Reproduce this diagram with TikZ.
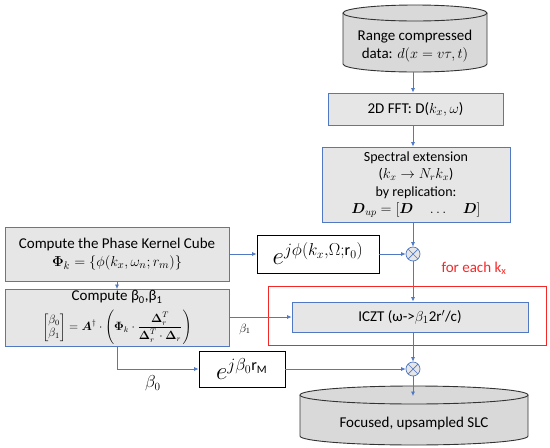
\documentclass[tikz,border=0pt]{standalone}
\usepackage{amsmath, amssymb}
\usepackage{fontspec}
\setmainfont{Carlito}
\usepackage{tikz}
\usetikzlibrary{arrows.meta}

\definecolor{boxblue}{RGB}{80,120,195}
\definecolor{boxgray}{RGB}{230,230,230}
\definecolor{cylgray}{RGB}{217,217,217}
\definecolor{loopred}{RGB}{245,40,40}

\begin{document}
\begin{tikzpicture}[x=1pt, y=-1pt,
    every node/.style={font=\fontsize{15}{18}\selectfont},
    procbox/.style={draw=boxblue, line width=0.9pt, fill=boxgray, align=center, inner sep=1pt},
    expbox/.style={draw=black, line width=0.9pt, fill=white, inner sep=2pt, font=\fontsize{23}{26}\selectfont},
    mixer/.style={circle, draw=boxblue, line width=0.7pt, fill=boxgray, minimum size=14pt, inner sep=0pt,
      path picture={\draw[boxblue, line width=0.7pt] (path picture bounding box.north west) -- (path picture bounding box.south east)
        (path picture bounding box.north east) -- (path picture bounding box.south west);}},
    flow/.style={boxblue, line width=0.7pt, -{Latex[length=4.5pt, width=4pt]}},
    cyl/.style={draw=black!80, line width=0.9pt, fill=cylgray}]
      \useasboundingbox (0,0) rectangle (550,448);

      % 1. input and output data (cylinders)
      \draw[cyl] (343,13) -- (343,64) arc[start angle=180, end angle=360, x radius=72pt, y radius=8pt] -- (487,13);
      \draw[cyl] (415,13) ellipse[x radius=72pt, y radius=8pt];
      \node[align=center] (rawdata) at (415,46) {Range compressed\\data: $d(x=v\tau,t)$};
      \coordinate (rawout) at (413,72);

      \draw[cyl] (300,395) -- (300,436) arc[start angle=180, end angle=360, x radius=114pt, y radius=9pt] -- (528,395);
      \draw[cyl] (414,395) ellipse[x radius=114pt, y radius=9pt];
      \node (slc) at (414,423) {Focused, upsampled SLC};
      \coordinate (slcin) at (413,396);

      % 2. processing blocks
      \node[procbox, minimum width=175pt, minimum height=32pt] (fft) at (415.5,109) {2D FFT: D($k_x,\omega$)};
      \node[procbox, minimum width=188pt, minimum height=75pt, font=\fontsize{14}{17.5}\selectfont] (spec) at (416,184.5)
        {Spectral extension\\($k_x\rightarrow N_r k_x$)\\by replication:\\$\boldsymbol{D}_{up}=[\boldsymbol{D}\quad\dots\quad\boldsymbol{D}]$};
      \node[procbox, minimum width=224pt, minimum height=54pt] (kernel) at (117,254)
        {Compute the Phase Kernel Cube\\$\boldsymbol{\Phi}_k=\{\phi(k_x,\omega_n;r_m)\}$};
      \node[procbox, minimum width=224pt, minimum height=57pt, inner sep=0pt] (beta) at (117,318) {};
      \node[anchor=north, inner sep=0pt] (betatitle) at ([yshift=-1.5pt]beta.north) {Compute β\textsubscript{0},β\textsubscript{1}};
      \node[anchor=south, inner sep=0pt, font=\fontsize{11.5}{13}\selectfont] (betaformula) at ([yshift=2pt]beta.south)
        {$\begin{bmatrix}\beta_0\\ \beta_1\end{bmatrix}=\boldsymbol{A}^{\dagger}\cdot\left(\boldsymbol{\Phi}_k\cdot\dfrac{\boldsymbol{\Delta}_r^T}{\boldsymbol{\Delta}_r^T\cdot\boldsymbol{\Delta}_r}\right)$};

      % 3. loop over k_x
      \draw[loopred, line width=0.9pt] (268,286) rectangle (546,345);
      \node[text=loopred] (loopname) at (474,268) {for each k\textsubscript{x}};
      \node[procbox, minimum width=236pt, minimum height=30pt] (iczt) at (410,317) {ICZT (ω->$\beta_1$2r$'$/c)};

      % 4. phase terms and mixers
      \node[expbox, minimum width=122pt, minimum height=38pt] (expA) at (318,254) {$e^{j\phi(k_x,\Omega;\mathrm{r}_0)}$};
      \node[expbox, minimum width=86pt, minimum height=36pt] (expB) at (242,369) {$e^{j\beta_0\mathrm{r}_\mathrm{M}}$};
      \node[mixer] (mulA) at (413,254) {};
      \node[mixer] (mulB) at (413,369) {};

      % 5. connectors
      \draw[flow] (rawout) -- (fft.north -| rawout);
      \draw[flow] (fft.south -| rawout) -- (spec.north -| rawout);
      \draw[flow] (spec.south -| mulA) -- (mulA.north);
      \draw[flow] (kernel.east) -- (expA.west);
      \draw[flow] (expA.east) -- (mulA.west);
      \draw[flow] (kernel.south) -- (beta.north);
      \draw[flow] (mulA.south) -- (iczt.north -| mulA);
      \draw[flow] (beta.east |- iczt) -- (iczt.west) node[pos=0.25, below=3pt, text=black, font=\fontsize{12}{14}\selectfont] (betaone) {$\beta_1$};
      \draw[flow] (beta.south) |- (expB.west) node[pos=0.72, below=3pt, text=black, font=\fontsize{16}{18}\selectfont] (betazero) {$\beta_0$};
      \draw[flow] (iczt.south -| mulB) -- (mulB.north);
      \draw[flow] (expB.east) -- (mulB.west);
      \draw[flow] (mulB.south) -- (slcin);
\end{tikzpicture}
\end{document}
